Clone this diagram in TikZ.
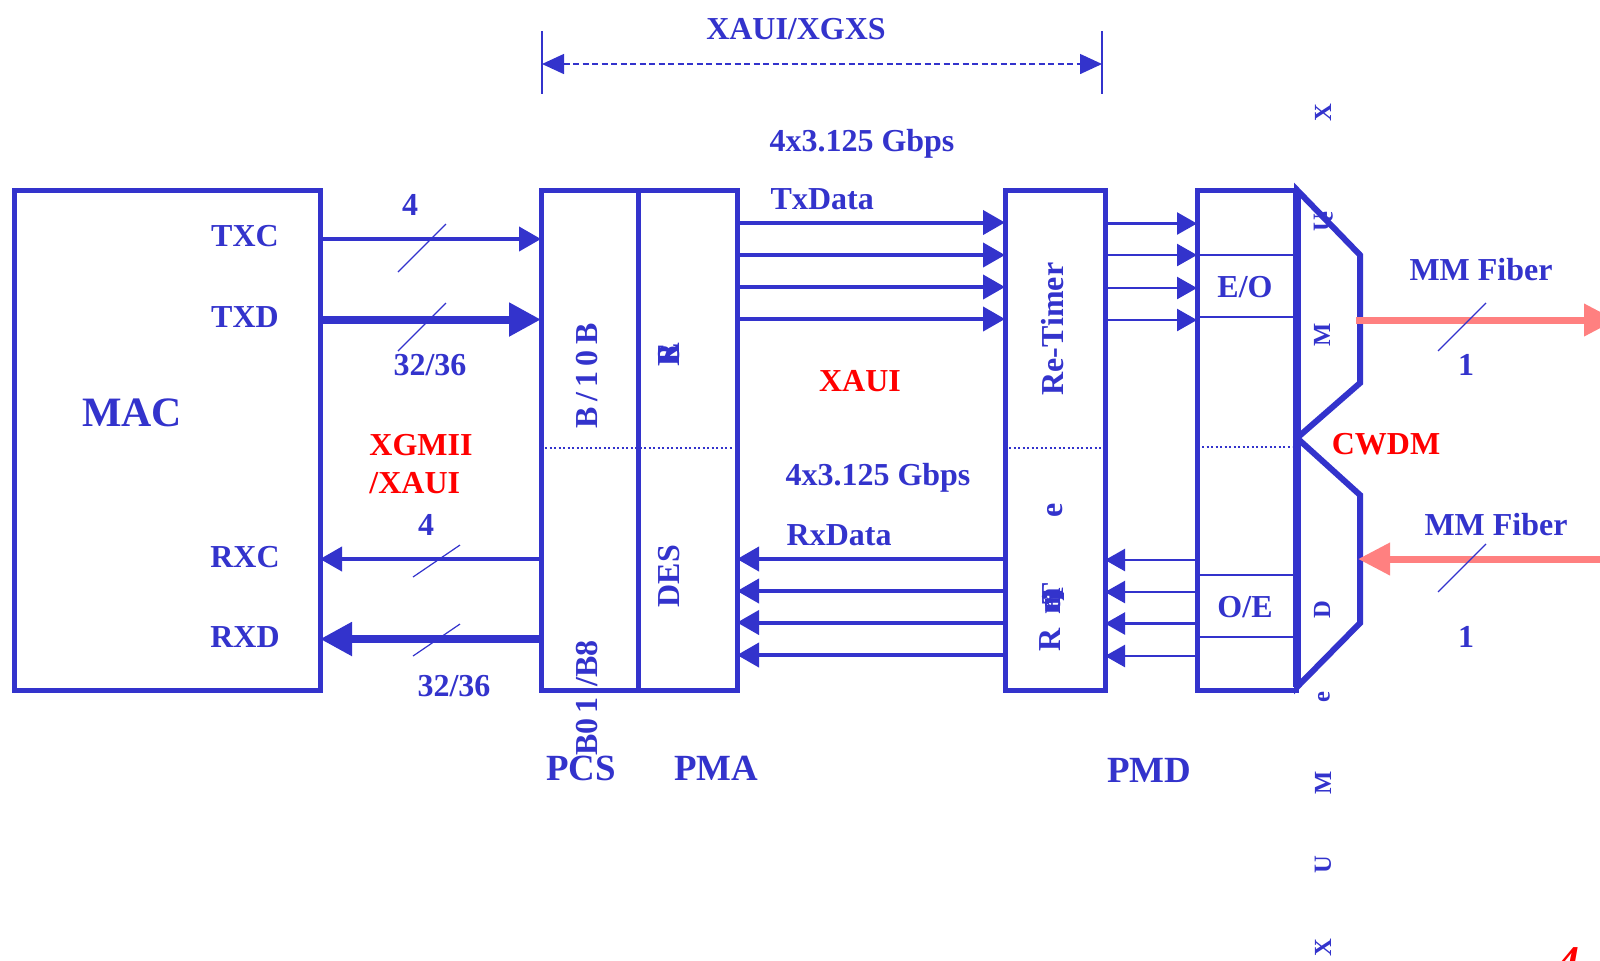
\documentclass[tikz,border=0pt]{standalone}
\usepackage{fontspec}
\setmainfont{Liberation Serif}
\usepackage{xcolor}
\usetikzlibrary{
  arrows.meta,
  positioning
}
\definecolor{linkblue}{HTML}{3333CC}
\definecolor{flagred}{HTML}{FF0000}
\definecolor{fiberpink}{HTML}{FF8080}
\tikzset{
  blockbox/.style={
    rectangle, draw=linkblue, line width=0.05cm, outer sep=0pt,
    inner sep=0pt, minimum height=5cm
  },
  lbl/.style={
    font=\fontsize{9.1pt}{10pt}\selectfont\bfseries, color=linkblue, inner sep=0pt
  },
  biglbl/.style={
    font=\fontsize{10.5pt}{12pt}\selectfont\bfseries, color=linkblue, inner sep=0pt
  },
  redlbl/.style={
    font=\fontsize{9.1pt}{10pt}\selectfont\bfseries, color=flagred, inner sep=0pt
  },
  vertlbl/.style={lbl, rotate=90},
  muxlbl/.style={
    font=\fontsize{7pt}{8pt}\selectfont\bfseries, color=linkblue, inner sep=0pt, rotate=90
  },
  busthin/.style={
    -{Triangle[length=0.22cm,width=0.24cm]}, line width=0.04cm, color=linkblue
  },
  busthick/.style={
    -{Triangle[length=0.32cm,width=0.32cm]}, line width=0.08cm, color=linkblue
  },
  lanearrow/.style={
    -{Triangle[length=0.22cm,width=0.24cm]}, line width=0.04cm, color=linkblue
  },
  optarrow/.style={
    -{Triangle[length=0.2cm,width=0.22cm]}, line width=0.025cm, color=linkblue
  },
  fiberarrow/.style={
    -{Triangle[length=0.32cm,width=0.31cm]}, line width=0.07cm, color=fiberpink
  },
  slash/.style={line width=0.012cm, color=linkblue},
  splitline/.style={dash pattern=on 0.02cm off 0.025cm, line width=0.02cm, color=linkblue},
  cellline/.style={line width=0.02cm, color=linkblue},
  muxline/.style={line width=0.06cm, color=linkblue, line join=miter},
}

\begin{document}
\begin{tikzpicture}[x=1cm,y=-1cm]
  \useasboundingbox (0,0) rectangle (16,9.6);

  % blocks
  \node[blockbox, minimum width=3.06cm, anchor=north west] (mac) at (0.14,1.9) {};
  \node[blockbox, minimum width=0.97cm, anchor=north west] (pcs) at (5.41,1.9) {};
  \node[blockbox, minimum width=0.99cm, right=0cm of pcs] (pma) {};
  \node[blockbox, minimum width=1cm, right=2.68cm of pma] (retimer) {};
  \node[blockbox, minimum width=0.99cm, right=0.92cm of retimer] (optics) {};

  % CWDM mux and demux
  \coordinate (muxtop) at (12.97,1.9);
  \coordinate (muxmid) at (12.97,4.38);
  \coordinate (muxbot) at (12.97,6.87);
  \draw[muxline] (muxtop) -- ++(0.63,0.65) -- ++(0,1.28) -- (muxmid) -- cycle;
  \draw[muxline] (muxmid) -- ++(0.63,0.57) -- ++(0,1.28) -- (muxbot) -- cycle;
  \draw[line width=0.08cm, color=linkblue] (muxtop) -- (muxbot);

  % split lines
  \draw[splitline] (5.45,4.48) -- (7.33,4.48);
  \draw[splitline] (10.09,4.48) -- (11.01,4.48);
  \draw[splitline] (12.02,4.47) -- (12.92,4.47);
  \draw[cellline] (optics.west |- 0,2.55) -- (optics.east |- 0,2.55);
  \draw[cellline] (optics.west |- 0,3.17) -- (optics.east |- 0,3.17);
  \draw[cellline] (optics.west |- 0,5.75) -- (optics.east |- 0,5.75);
  \draw[cellline] (optics.west |- 0,6.37) -- (optics.east |- 0,6.37);

  % XGMII side
  \draw[busthin] (mac.east |- 0,2.39) -- (pcs.west |- 0,2.39);
  \draw[busthick] (mac.east |- 0,3.195) -- (pcs.west |- 0,3.195);
  \draw[busthin] (pcs.west |- 0,5.59) -- (mac.east |- 0,5.59);
  \draw[busthick] (pcs.west |- 0,6.39) -- (mac.east |- 0,6.39);

  % XAUI lanes
  \foreach \ty/\ry in {2.225/5.59, 2.55/5.91, 2.87/6.225, 3.19/6.55} {
    \draw[lanearrow] (pma.east |- 0,\ty) -- (retimer.west |- 0,\ty);
    \draw[lanearrow] (retimer.west |- 0,\ry) -- (pma.east |- 0,\ry);
  }
  \foreach \ty/\ry in {2.235/5.6, 2.55/5.92, 2.88/6.235, 3.2/6.56} {
    \draw[optarrow] (retimer.east |- 0,\ty) -- (optics.west |- 0,\ty);
    \draw[optarrow] (optics.west |- 0,\ry) -- (retimer.east |- 0,\ry);
  }

  % fiber
  \coordinate (fiberout) at (16.16,3.2);
  \coordinate (fiberin) at (16.2,5.59);
  \draw[fiberarrow] (13.56,3.2) -- (fiberout);
  \draw[fiberarrow] (fiberin) -- (13.58,5.59);

  % bus width marks
  \foreach \sx/\sy in {4.22/2.48, 4.22/3.27, 14.62/3.27, 14.62/5.68} {
    \draw[slash] (\sx,\sy) ++(-0.24,0.24) -- ++(0.48,-0.48);
  }
  \foreach \sx/\sy in {4.37/5.61, 4.37/6.40} {
    \draw[slash] (\sx,\sy) ++(-0.24,0.16) -- ++(0.47,-0.32);
  }

  % XAUI span
  \coordinate (spanl) at (5.42,0.64);
  \coordinate (spanr) at (11.02,0.64);
  \draw[line width=0.012cm, color=linkblue] (5.42,0.31) -- (5.42,0.94);
  \draw[line width=0.012cm, color=linkblue] (11.02,0.31) -- (11.02,0.94);
  \draw[dash pattern=on 0.06cm off 0.035cm, line width=0.015cm, color=linkblue,
    {Triangle[length=0.22cm,width=0.2cm]}-{Triangle[length=0.22cm,width=0.2cm]}] (spanl) -- (spanr);
  \node[lbl] (spanlbl) at (7.96,0.295) {XAUI/XGXS};

  % labels
  \node[lbl, font=\fontsize{11.9pt}{13pt}\selectfont\bfseries] (maclbl) at (1.32,4.13) {MAC};
  \node[lbl] (txc) at (2.45,2.36) {TXC};
  \node[lbl] (txd) at (2.45,3.17) {TXD};
  \node[lbl] (rxc) at (2.45,5.57) {RXC};
  \node[lbl] (rxd) at (2.45,6.37) {RXD};
  \node[lbl] (w1) at (4.10,2.05) {4};
  \node[lbl] (w2) at (4.30,3.65) {32/36};
  \node[lbl] (w3) at (4.26,5.25) {4};
  \node[lbl] (w4) at (4.54,6.86) {32/36};
  \node[redlbl] (xgmii) at (4.21,4.45) {XGMII};
  \node[redlbl, below=0.15cm of xgmii.south west, anchor=north west] (xaui2) {/XAUI};
  \node[lbl] (txrate) at (8.62,1.44) {4x3.125 Gbps};
  \node[lbl, anchor=west] (txdata) at (7.70,1.99) {TxData};
  \node[redlbl] (xaui) at (8.60,3.81) {XAUI};
  \node[lbl] (rxrate) at (8.78,4.78) {4x3.125 Gbps};
  \node[lbl, anchor=west] (rxdata) at (7.86,5.35) {RxData};
  \node[biglbl] (pcslbl) at (5.81,7.68) {PCS};
  \node[biglbl] (pmalbl) at (7.16,7.68) {PMA};
  \node[biglbl] (pmdlbl) at (11.49,7.70) {PMD};
  \node[lbl] (eo) at (12.45,2.87) {E/O};
  \node[lbl] (oe) at (12.45,6.07) {O/E};
  \node[redlbl] (cwdm) at (13.86,4.44) {CWDM};
  \node[lbl] (fib1) at (14.81,2.70) {MM Fiber};
  \node[lbl] (fib2) at (14.96,5.25) {MM Fiber};
  \node[lbl] (one1) at (14.66,3.65) {1};
  \node[lbl] (one2) at (14.66,6.37) {1};

  % rotated labels
  \node[vertlbl] (enc) at (5.87,3.76) {B\,/\,1\,0\,B};
  \node[vertlbl] (dec) at (5.87,6.98) {B0\,1\,\,/B8};
  \foreach \c/\cy [count=\i] in {S/3.55, E/3.54, R/3.55} {
    \node[vertlbl] (ser\i) at (6.69,\cy) {\c};
  }
  \node[vertlbl] (des) at (6.69,5.76) {DES};
  \node[vertlbl] (rt1) at (10.53,3.29) {Re-Timer};
  \node[vertlbl] (rt2) at (10.55,5.10) {e};
  \node[vertlbl] (rt3) at (10.50,6.40) {R};
  \foreach \c/\cy [count=\i] in {T/5.94, i/5.97, m/6.01, e/6.05, r/6.05} {
    \node[vertlbl] (rtm\i) at (10.53,\cy) {\c};
  }

  % mux letters
  \node[muxlbl] (mx1) at (13.23,1.13) {X};
  \node[muxlbl] (mx2) at (13.22,2.23) {U};
  \node[muxlbl] (mx4) at (13.27,2.17) {e};
  \node[muxlbl] (mx3) at (13.22,3.35) {M};
  \node[muxlbl] (dm1) at (13.22,6.10) {D};
  \node[muxlbl] (dm2) at (13.24,6.97) {e};
  \node[muxlbl] (dm3) at (13.23,7.83) {M};
  \node[muxlbl] (dm4) at (13.23,8.65) {U};
  \node[muxlbl] (dm5) at (13.23,9.48) {X};

  % page number
  \node[font=\fontsize{12.5pt}{14pt}\selectfont\bfseries\itshape, color=flagred,
    inner sep=0pt, anchor=base east] (pageno) at (15.8,9.76) {4};
\end{tikzpicture}
\end{document}
